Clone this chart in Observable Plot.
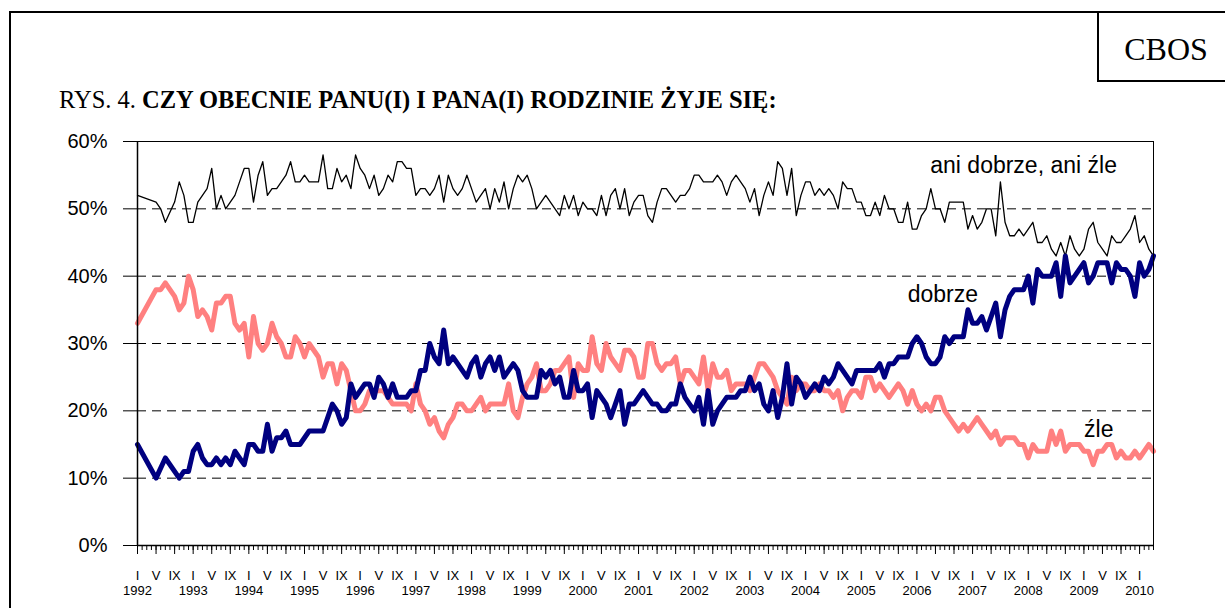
<!DOCTYPE html>
<html>
<head>
<meta charset="utf-8">
<script src="https://cdn.jsdelivr.net/npm/d3@7"></script>
<script src="https://cdn.jsdelivr.net/npm/@observablehq/plot@0.6"></script>
<style>
  html, body { margin: 0; padding: 0; background: #fff; }
  body { width: 1225px; height: 608px; overflow: hidden; position: relative; }
  #frame { position: absolute; left: 9px; top: 11px; width: 1400px; height: 900px; border: 2px solid #000; box-sizing: border-box; }
  #cbosbox { position: absolute; left: 1097px; top: 11px; width: 300px; height: 71px; border: 2px solid #000; box-sizing: border-box; background: #fff; }
  #cbos { position: absolute; left: 1100px; width: 132px; top: 33px; text-align: center; font-family: "Liberation Serif", "Times New Roman", serif; font-size: 32px; line-height: 32px; color: #000; }
  #title { position: absolute; left: 59px; top: 88px; font-family: "Liberation Serif", "Times New Roman", serif; font-size: 24.5px; line-height: 24px; color: #000; white-space: nowrap; }
  #chart { position: absolute; left: 0; top: 0; }
</style>
</head>
<body>
<div id="frame"></div>
<div id="cbosbox"></div>
<div id="cbos">CBOS</div>
<div id="title">RYS. 4. <b>CZY OBECNIE PANU(I) I PANA(I) RODZINIE ŻYJE SIĘ:</b></div>
<div id="chart"></div>
<script>
// Monthly series, index 0 = January 1992 ... 219 = April 2010 (null = no survey)
const years = [1992,1993,1994,1995,1996,1997,1998,1999,2000,2001,2002,2003,2004,2005,2006,2007,2008,2009,2010];
const monthLabels = ["I", "V", "IX"];
const monthOffsets = [0, 4, 8];
const yTicks = [0, 10, 20, 30, 40, 50, 60];
const gridValues = [10, 20, 30, 40, 50];

const aniDobrzeAniZle = [
  52,null,null,null,51,50,48,null,51,54,
  52,48,48,51,52,53,56,50,52,50,
  51,52,54,56,56,51,55,57,52,53,
  53,54,55,57,54,54,55,54,54,54,
  58,53,53,56,54,55,53,58,56,55,
  53,55,52,53,55,54,
  57,57,56,56,52,53,53,52,53,55,
  51,55,53,52,53,55,53,51,52,53,
  50,53,51,54,50,53,55,54,55,53,
  50,51,52,51,50,49,52,50,52,49,
  51,50,50,49,52,49,52,53,50,53,
  49,51,52,52,49,
  48,51,53,53,52,51,52,52,53,55,
  55,54,54,54,55,54,52,54,55,54,
  53,51,53,49,52,54,52,57,56,52,
  56,49,52,54,54,52,53,52,53,52,
  50,54,53,53,51,51,49,49,51,49,
  52,50,50,48,
  48,51,47,47,49,50,53,50,50,48,
  51,51,51,51,47,49,47,48,50,50,
  46,54,48,46,46,47,46,47,48,45,
  45,46,44,43,45,43,46,44,43,44,
  47,48,45,44,43,46,45,45,46,47,
  49,45,46,44,43
];

const dobrze = [
  15,null,null,null,10,null,13,null,null,10,
  11,11,14,15,13,12,12,13,12,13,
  12,14,13,12,15,15,14,14,18,14,
  16,16,17,15,15,15,16,17,17,17,
  17,19,21,20,18,19,24,22,23,24,
  24,22,25,24,22,24,
  22,22,22,23,23,26,26,30,28,27,
  32,27,28,27,26,25,27,28,25,27,
  28,26,28,25,26,27,26,23,22,22,
  22,26,25,26,24,25,22,22,26,23,
  23,24,19,23,22,21,19,21,23,18,
  21,21,22,23,22,
  21,21,20,20,21,21,24,22,21,20,
  22,18,23,18,20,21,22,22,22,23,
  23,25,23,24,21,20,23,19,22,27,
  21,25,24,22,23,24,23,25,24,25,
  27,26,25,24,26,26,26,26,26,27,
  25,27,27,28,
  28,28,30,31,30,28,27,27,28,31,
  30,31,31,31,35,33,33,34,32,34,
  36,31,35,37,38,38,38,40,36,41,
  40,40,40,42,37,43,39,40,41,42,
  39,40,42,42,42,39,42,41,41,40,
  37,42,40,41,43
];

const zle = [
  33,null,null,null,38,38,39,null,37,35,
  36,40,38,34,35,34,32,36,36,37,
  37,33,32,33,28,34,30,29,30,33,
  31,30,28,28,31,30,28,30,29,28,
  25,27,27,24,27,26,23,20,20,21,
  23,23,23,23,22,21,
  21,21,21,20,24,21,20,18,19,17,
  16,18,19,21,21,20,20,21,22,20,
  21,21,21,21,24,20,19,22,24,25,
  27,23,23,24,26,26,27,28,22,27,
  26,26,31,27,26,30,28,27,26,29,
  29,28,25,25,30,
  30,27,26,27,27,28,24,26,26,25,
  24,28,23,27,25,25,26,23,24,24,
  24,23,25,27,27,26,25,23,22,21,
  25,23,24,24,23,23,24,23,23,22,
  23,20,22,23,23,22,25,25,23,24,
  23,22,23,24,
  23,21,23,21,20,21,20,22,22,20,
  19,18,17,18,17,18,19,18,17,16,
  17,15,16,16,16,15,15,13,15,14,
  14,14,17,15,17,14,15,15,15,14,
  14,12,14,14,15,15,13,14,13,13,
  14,13,14,15,14
];

const seriesLabels = [
  {name: "ani dobrze, ani źle", m: 191, v: 55.35},
  {name: "dobrze", m: 173.6, v: 36.1},
  {name: "źle", m: 207.2, v: 16.1}
];

const toPoints = arr => arr.map((v, m) => ({m, v})).filter(d => d.v != null);
const nMonths = dobrze.length;
const allMonths = d3.range(nMonths);
const labelMonths = allMonths.filter(m => monthOffsets.includes(m % 12));
const yearMonths = years.map((y, i) => i * 12);

const sans = "'Liberation Sans', Arial, Helvetica, sans-serif";

const chart = Plot.plot({
  width: 1225,
  height: 608,
  marginLeft: 137,
  marginRight: 72,
  marginTop: 141,
  marginBottom: 63,
  style: {background: "transparent", fontFamily: sans, color: "#000", overflow: "visible"},
  x: {domain: [0, nMonths - 1]},
  y: {domain: [0, 60]},
  marks: [
    Plot.ruleY(gridValues, {stroke: "#000", strokeWidth: 1, strokeDasharray: "9,6"}),
    Plot.line(toPoints(zle), {x: "m", y: "v", stroke: "#FF8080", strokeWidth: 5, strokeLinejoin: "round"}),
    Plot.line(toPoints(aniDobrzeAniZle), {x: "m", y: "v", stroke: "#000", strokeWidth: 1.3}),
    Plot.line(toPoints(dobrze), {x: "m", y: "v", stroke: "#000080", strokeWidth: 5, strokeLinejoin: "round"}),
    Plot.frame({stroke: "#000", strokeWidth: 1}),
    Plot.axisY({ticks: yTicks, tickSize: 14, tickPadding: 16, tickFormat: d => d + "%", fontSize: 20, label: null, stroke: "#000"}),
    Plot.axisX({ticks: allMonths, tickSize: 5, tickFormat: () => "", label: null}),
    Plot.axisX({ticks: labelMonths, tickSize: 9, tickPadding: 16, fontSize: 13,
      tickFormat: m => monthLabels[monthOffsets.indexOf(m % 12)], label: null}),
    Plot.axisX({ticks: yearMonths, tickSize: 0, tickPadding: 40, fontSize: 13,
      tickFormat: m => String(years[m / 12]), label: null}),
    Plot.ruleX([0], {stroke: "#000", strokeWidth: 1.5}),
    Plot.ruleY([0], {stroke: "#000", strokeWidth: 1.5}),
    Plot.text(seriesLabels, {x: "m", y: "v", text: "name", fontSize: 23, lineAnchor: "bottom", fill: "#000"})
  ]
});
document.getElementById("chart").appendChild(chart);
</script>
</body>
</html>
